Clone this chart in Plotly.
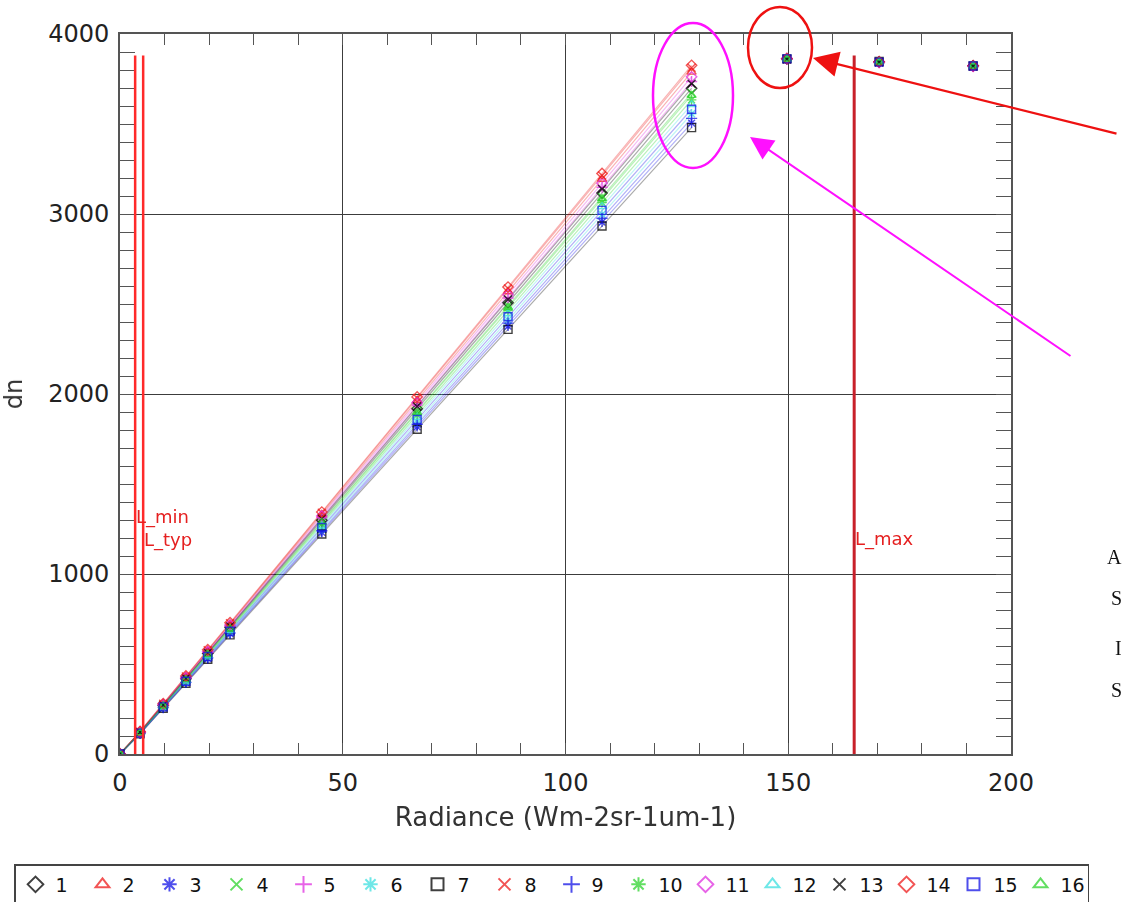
import plotly.graph_objects as go

# Radiance steps of the calibration sweep (W m-2 sr-1 um-1)
radiance = [0, 4.5, 9.7, 14.8, 19.7, 24.7, 45.3, 66.7, 87.1, 108.2, 128.3, 149.7, 170.4, 191.5]
n_linear = 11  # steps below saturation, joined by the response lines

# Detector output (dn) per channel
dn_ch1 = [0, 120, 270, 418, 559, 704, 1299, 1918, 2507, 3117, 3698, 3862, 3845, 3823]
dn_ch2 = [0, 123, 277, 428, 573, 721, 1331, 1964, 2568, 3193, 3788, 3864, 3843, 3821]
dn_ch3 = [0, 113, 256, 396, 530, 667, 1231, 1818, 2377, 2955, 3505, 3860, 3846, 3822]
dn_ch4 = [0, 119, 268, 415, 555, 699, 1290, 1904, 2490, 3095, 3672, 3863, 3844, 3824]
dn_ch5 = [0, 121, 273, 422, 565, 711, 1313, 1938, 2533, 3149, 3736, 3861, 3842, 3820]
dn_ch6 = [0, 115, 260, 401, 538, 677, 1249, 1844, 2411, 2998, 3557, 3865, 3845, 3823]
dn_ch7 = [0, 112, 254, 393, 526, 662, 1222, 1804, 2359, 2933, 3480, 3862, 3847, 3822]
dn_ch8 = [0, 124, 279, 431, 577, 726, 1340, 1978, 2586, 3214, 3813, 3860, 3843, 3821]
dn_ch9 = [0, 114, 258, 398, 534, 672, 1240, 1831, 2394, 2976, 3531, 3863, 3846, 3824]
dn_ch10 = [0, 118, 265, 410, 549, 691, 1277, 1884, 2464, 3063, 3634, 3861, 3844, 3822]
dn_ch11 = [0, 122, 275, 425, 569, 716, 1322, 1951, 2551, 3171, 3762, 3864, 3842, 3820]
dn_ch12 = [0, 117, 264, 407, 546, 687, 1267, 1871, 2446, 3041, 3608, 3862, 3845, 3823]
dn_ch13 = [0, 121, 272, 421, 563, 709, 1308, 1931, 2525, 3139, 3724, 3860, 3843, 3821]
dn_ch14 = [0, 125, 280, 433, 579, 729, 1344, 1984, 2594, 3225, 3826, 3863, 3846, 3824]
dn_ch15 = [0, 116, 262, 404, 542, 682, 1258, 1858, 2429, 3020, 3582, 3862, 3844, 3822]
dn_ch16 = [0, 119, 267, 413, 553, 696, 1286, 1898, 2481, 3085, 3659, 3861, 3845, 3823]

channel_names = [str(i) for i in range(1, 17)]
channel_dn = [dn_ch1, dn_ch2, dn_ch3, dn_ch4, dn_ch5, dn_ch6, dn_ch7, dn_ch8,
              dn_ch9, dn_ch10, dn_ch11, dn_ch12, dn_ch13, dn_ch14, dn_ch15, dn_ch16]

# Specification radiance levels
spec_names = ["L_min", "L_typ", "L_max"]
spec_radiance = [3.4, 5.2, 164.8]
spec_line_top = 3880
spec_label_dn = [1317, 1189, 1194]

# IDL-style colour cycle and plot symbols
palette = ["#000000", "#ee1c1c", "#1414e6", "#2ed42e", "#e030e0", "#3ee0e0"]
rgb = {"#000000": (0, 0, 0), "#ee1c1c": (238, 28, 28), "#1414e6": (20, 20, 230),
       "#2ed42e": (46, 212, 46), "#e030e0": (224, 48, 224), "#3ee0e0": (62, 224, 224)}
symbols = ["diamond-open", "triangle-up-open", "asterisk-open", "x-thin-open",
           "cross-thin-open", "asterisk-open", "square-open", "x-thin-open",
           "cross-thin-open", "asterisk-open", "diamond-open", "triangle-up-open",
           "x-thin-open", "diamond-open", "square-open", "triangle-up-open"]

# channel 15 (blue squares) is drawn on top of the others
draw_order = [i for i in range(16) if i != 14] + [14]

W, H = 1124, 902
PL, PR, PT, PB = 120, 1011, 34, 754  # plot frame in pixels
FONT = "DejaVu Sans"


def px(x):
    return x / W


def py(y):
    return 1 - y / H


fig = go.Figure()

# response lines through the unsaturated steps
for i, dn in enumerate(channel_dn):
    r, g, b = rgb[palette[i % 6]]
    fig.add_trace(go.Scatter(
        x=radiance[:n_linear], y=dn[:n_linear], mode="lines",
        line=dict(color=f"rgba({r},{g},{b},0.33)", width=1.2),
        showlegend=False, hoverinfo="skip"))

# measured points, all steps
for i in draw_order:
    col = palette[i % 6]
    fig.add_trace(go.Scatter(
        x=radiance, y=channel_dn[i], mode="markers", name=channel_names[i],
        legendrank=i + 1,
        marker=dict(symbol=symbols[i], size=8, color=col,
                    line=dict(color=col, width=1.4)),
        opacity=0.75))

# specification levels
for name, lx, ly in zip(spec_names, spec_radiance, spec_label_dn):
    dark = name == "L_max"
    fig.add_shape(type="line", xref="x", yref="y", x0=lx, x1=lx, y0=0, y1=spec_line_top,
                  line=dict(color="#c8202a" if dark else "#ff2a2a", width=3 if dark else 2.5))
    fig.add_annotation(x=lx, y=ly, xref="x", yref="y", text=name, showarrow=False,
                       xanchor="left", yanchor="middle", xshift=-1,
                       font=dict(family=FONT, size=18, color="#e52020"))

# highlight ellipses
fig.add_shape(type="circle", xref="paper", yref="paper",
              x0=px(748), x1=px(812), y0=py(88), y1=py(7),
              line=dict(color="#ee1111", width=2.5))
fig.add_shape(type="circle", xref="paper", yref="paper",
              x0=px(653), x1=px(733), y0=py(168), y1=py(23),
              line=dict(color="#ff10ff", width=2.5))

# pointer arrows
fig.add_annotation(xref="paper", yref="paper", x=px(813), y=py(58), ax=305, ay=76,
                   axref="pixel", ayref="pixel", text="", showarrow=True,
                   arrowhead=2, arrowsize=2.3, arrowwidth=2.2, arrowcolor="#ee1111")
fig.add_annotation(xref="paper", yref="paper", x=px(750), y=py(137), ax=322, ay=220,
                   axref="pixel", ayref="pixel", text="", showarrow=True,
                   arrowhead=2, arrowsize=2.3, arrowwidth=2.0, arrowcolor="#ff10ff")

# neighbouring page text at the right edge
for ch, yy in zip(["A", "S", "I", "S"], [557, 598, 648, 690]):
    fig.add_annotation(xref="paper", yref="paper", x=1.0, y=py(yy), text=ch,
                       showarrow=False, xanchor="right", yanchor="middle",
                       font=dict(family="Liberation Serif", size=20, color="#111111"))

axis_common = dict(
    showgrid=True, gridcolor="#3c3c3c", gridwidth=1.3, zeroline=False,
    showline=True, linecolor="#555555", linewidth=1.6, mirror="ticks",
    ticks="inside", tickcolor="#555555", tickwidth=1.3,
    tickfont=dict(family=FONT, size=24, color="#222222"),
)

fig.update_layout(
    width=W, height=H,
    margin=dict(l=0, r=0, t=0, b=0, autoexpand=False),
    paper_bgcolor="white", plot_bgcolor="white",
    xaxis=dict(
        domain=[px(PL), px(PR)], range=[0, 200], dtick=50, ticklen=11,
        minor=dict(dtick=10, ticks="inside", ticklen=11, tickcolor="#555555", showgrid=False),
        ticklabelstandoff=6,
        title=dict(text="Radiance (Wm-2sr-1um-1)", standoff=12,
                   font=dict(family=FONT, size=26, color="#333333")),
        **axis_common),
    yaxis=dict(
        domain=[py(PB), py(PT)], range=[0, 4000], dtick=1000, ticklen=15,
        minor=dict(dtick=100, ticks="inside", ticklen=15, tickcolor="#555555", showgrid=False),
        ticklabelstandoff=4,
        title=dict(text="dn", standoff=20,
                   font=dict(family=FONT, size=24, color="#333333")),
        **axis_common),
    legend=dict(
        orientation="h", x=px(14), y=py(864), xanchor="left", yanchor="top",
        bordercolor="#444444", borderwidth=1.5, bgcolor="white",
        font=dict(family=FONT, size=19, color="#111111"),
        itemsizing="constant", itemwidth=30, tracegroupgap=0,
        entrywidth=22, entrywidthmode="pixels",
    ),
)

fig.write_html("out.html")
